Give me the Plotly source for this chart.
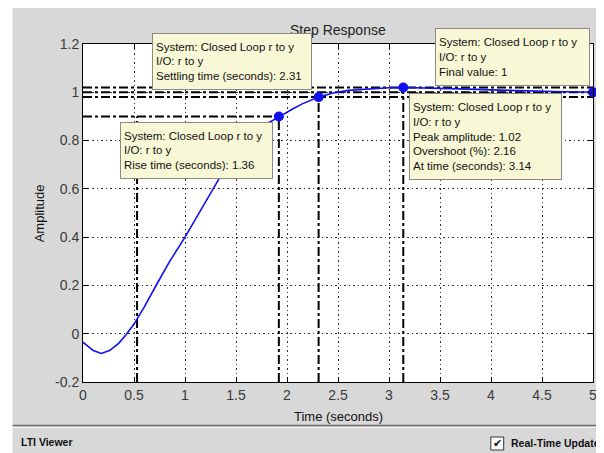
import plotly.graph_objects as go

# ---- data ----
time_s = [0, 0.1, 0.18, 0.26, 0.35, 0.42, 0.5, 0.6, 0.73, 0.85, 1.0, 1.15, 1.27,
          1.4, 1.55, 1.7, 1.8, 1.92, 2.05, 2.15, 2.31, 2.45, 2.6, 2.8, 3.0, 3.14,
          3.4, 3.7, 4.0, 4.3, 4.6, 5.0]
amplitude = [-0.035, -0.07, -0.082, -0.07, -0.04, -0.005, 0.04, 0.11, 0.21, 0.30,
             0.40, 0.51, 0.60, 0.69, 0.77, 0.835, 0.87, 0.897, 0.93, 0.952, 0.98,
             0.997, 1.008, 1.015, 1.019, 1.02, 1.018, 1.014, 1.01, 1.006, 1.003, 1.0]

rise_start_time = 0.53
rise_end_time = 1.92
rise_level = 0.9
settling_time = 2.31
settling_value = 0.98
settle_band = [0.98, 1.02]
peak_time = 3.14
peak_value = 1.02
final_time = 5.0
final_value = 1.0

marker_t = [rise_end_time, settling_time, peak_time, final_time]
marker_y = [rise_level, settling_value, peak_value, final_value]

x_tickvals = [0, 0.5, 1, 1.5, 2, 2.5, 3, 3.5, 4, 4.5, 5]
x_ticktext = ["0", "0.5", "1", "1.5", "2", "2.5", "3", "3.5", "4", "4.5", "5"]
y_tickvals = [-0.2, 0, 0.2, 0.4, 0.6, 0.8, 1.0, 1.2]
y_ticktext = ["-0.2", "0", "0.2", "0.4", "0.6", "0.8", "1", "1.2"]

box_texts = [
    "System: Closed Loop r to y<br>I/O: r to y<br>Settling time (seconds): 2.31",
    "System: Closed Loop r to y<br>I/O: r to y<br>Rise time (seconds): 1.36",
    "System: Closed Loop r to y<br>I/O: r to y<br>Final value: 1",
    "System: Closed Loop r to y<br>I/O: r to y<br>Peak amplitude: 1.02<br>Overshoot (%): 2.16<br>At time (seconds): 3.14",
]

# ---- layout geometry (page pixels; the page body adds an 8px offset) ----
PAGE_W, PAGE_H = 604, 453
OFF = 8
W, H = PAGE_W - OFF, PAGE_H - OFF
L, R, T, B = 83, 597, 44, 382
FONT = "Liberation Sans, Arial, sans-serif"


def px(xp):
    return (xp - L) / (R - L)


def py(yp):
    return (B - yp) / (B - T)


fig = go.Figure()

line_style = dict(color="black", width=2, dash="dashdot")
ymin = y_tickvals[0]
xmax = x_tickvals[-1]

# characteristic lines
fig.add_trace(go.Scatter(x=[0, rise_end_time], y=[rise_level, rise_level], mode="lines", line=line_style))
for lvl in settle_band:
    fig.add_trace(go.Scatter(x=[0, xmax], y=[lvl, lvl], mode="lines", line=line_style))
fig.add_trace(go.Scatter(x=[0, xmax], y=[final_value, final_value], mode="lines", line=line_style))
fig.add_trace(go.Scatter(x=[rise_start_time, rise_start_time], y=[ymin, rise_level], mode="lines", line=line_style))
fig.add_trace(go.Scatter(x=[rise_end_time, rise_end_time], y=[ymin, rise_level], mode="lines", line=line_style))
fig.add_trace(go.Scatter(x=[settling_time, settling_time], y=[ymin, settling_value], mode="lines", line=line_style))
fig.add_trace(go.Scatter(x=[peak_time, peak_time], y=[ymin, peak_value], mode="lines", line=line_style))

# response curve
fig.add_trace(go.Scatter(x=time_s, y=amplitude, mode="lines",
                         line=dict(color="#1010f0", width=1.6)))
fig.add_trace(go.Scatter(x=marker_t, y=marker_y, mode="markers", cliponaxis=False,
                         marker=dict(color="#1010f0", size=10)))

shapes = [
    # thin white strip at left
    dict(type="rect", xref="paper", yref="paper", x0=px(OFF - 1), x1=px(12), y0=py(OFF - 1), y1=py(PAGE_H + 1),
         fillcolor="white", line=dict(width=0), layer="below"),
    # separator
    dict(type="line", xref="paper", yref="paper", x0=px(12), x1=px(PAGE_W), y0=py(425.5), y1=py(425.5),
         line=dict(color="#6e6e6e", width=1.5)),
    dict(type="line", xref="paper", yref="paper", x0=px(12), x1=px(PAGE_W), y0=py(427.5), y1=py(427.5),
         line=dict(color="#f4f4f4", width=1)),
    # checkbox
    dict(type="rect", xref="paper", yref="paper", x0=px(494), x1=px(507), y0=py(450), y1=py(437),
         fillcolor="white", line=dict(color="#333333", width=1)),
]

annotations = [
    dict(text="Step Response", x=0.5, y=py(30), xref="paper", yref="paper",
         xanchor="center", yanchor="middle", showarrow=False,
         font=dict(family=FONT, size=14, color="#222222")),
    dict(text="Time (seconds)", x=0.5, y=py(416), xref="paper", yref="paper",
         xanchor="center", yanchor="middle", showarrow=False,
         font=dict(family=FONT, size=13, color="#111111")),
    dict(text="Amplitude", x=px(39), y=0.5, xref="paper", yref="paper", textangle=-90,
         xanchor="center", yanchor="middle", showarrow=False,
         font=dict(family=FONT, size=13, color="#111111")),
    dict(text="<b>LTI Viewer</b>", x=px(18), y=py(442), xref="paper", yref="paper",
         xanchor="left", yanchor="middle", showarrow=False,
         font=dict(family=FONT, size=10.5, color="#111111")),
    dict(text="✔", x=px(500.5), y=py(443.5), xref="paper", yref="paper",
         xanchor="center", yanchor="middle", showarrow=False,
         font=dict(family="DejaVu Sans", size=11, color="#111111")),
    dict(text="<b>Real-Time Update</b>", x=px(512), y=py(443), xref="paper", yref="paper",
         xanchor="left", yanchor="middle", showarrow=False,
         font=dict(family=FONT, size=10.5, color="#111111")),
]

# data-tip boxes: (left, top, width, height) in page px
box_geom = [(153, 33, 160, 57), (120, 122, 153, 57), (438, 28, 155, 58), (412, 93, 153, 87)]
for txt, (bx, by, bw, bh) in zip(box_texts, box_geom):
    annotations.append(dict(
        text=txt, x=px(bx), y=py(by), xref="paper", yref="paper",
        xanchor="left", yanchor="top", showarrow=False, align="left", valign="middle",
        width=bw - 8, height=bh - 8, borderpad=3, borderwidth=1,
        bordercolor="#8a8a80", bgcolor="#f8f8d6",
        font=dict(family=FONT, size=11.5, color="#111111")))

axis_common = dict(showline=True, linecolor="black", linewidth=1, mirror="ticks",
                   ticks="inside", ticklen=5, tickcolor="black",
                   showgrid=True, gridcolor="#333333", griddash="1.5px,3px", gridwidth=1,
                   zeroline=False, tickfont=dict(family=FONT, size=14, color="#3a3a3a"))

fig.update_layout(
    width=W, height=H,
    margin=dict(l=L - OFF, r=PAGE_W - R, t=T - OFF, b=PAGE_H - B),
    paper_bgcolor="#d8d8d8", plot_bgcolor="white",
    showlegend=False, hovermode=False,
    xaxis=dict(range=[0, 5], tickvals=x_tickvals, ticktext=x_ticktext, **axis_common),
    yaxis=dict(range=[-0.2, 1.2], tickvals=y_tickvals, ticktext=y_ticktext, **axis_common),
    shapes=shapes, annotations=annotations,
)

fig.write_html("out.html")
